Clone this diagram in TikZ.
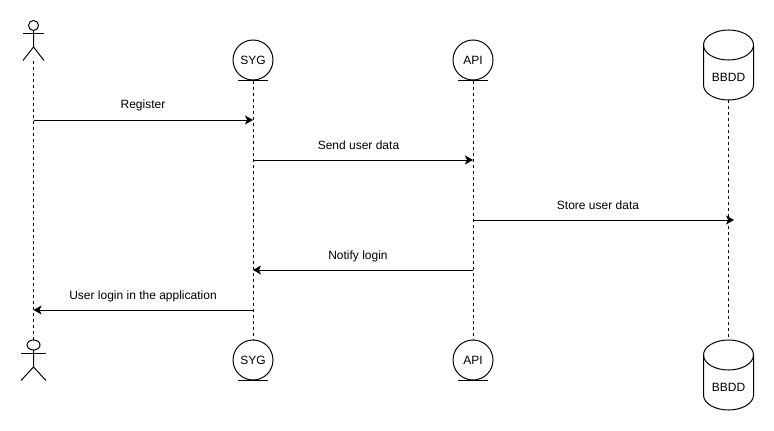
\documentclass[tikz,border=0pt]{standalone}
\usepackage{fontspec}
\setmainfont{Liberation Sans}
\usetikzlibrary{arrows.meta}
\tikzset{
  lifeline/.style={draw, dash pattern=on 3pt off 3pt, line width=0.8pt},
  message/.style={draw, line width=1pt, -{Stealth[length=8pt,width=9pt,inset=2pt]}},
  msglabel/.style={inner sep=0pt, font=\fontsize{12}{14}\selectfont},
  entity/.style={draw, circle, line width=1pt, minimum size=40pt, inner sep=0pt, font=\fontsize{12}{14}\selectfont},
  dblabel/.style={inner sep=0pt, font=\fontsize{12}{14}\selectfont},
  shapeline/.style={draw, line width=1pt},
}
\newcommand{\drawdb}[2]{%
  \draw[shapeline] (#1-25,#2+15) arc[x radius=25, y radius=15, start angle=180, end angle=-180];
  \draw[shapeline] (#1-25,#2+15) -- (#1-25,#2+55)
    arc[x radius=25, y radius=15, start angle=180, end angle=0] -- (#1+25,#2+15);
}
\begin{document}
\begin{tikzpicture}[x=1pt,y=-1pt]
\useasboundingbox (0,0) rectangle (774,431);
% top row
\def\xu{33.5}
\def\xs{253}
\def\xa{473}
\def\xb{728.5}
\coordinate (userTop) at (\xu,60.5);
\coordinate (userBottom) at (\xu,340);
\draw[shapeline] (\xu,25.5) circle[radius=5];
\draw[shapeline] (\xu,30.5) -- (\xu,47) -- (23,60.5);
\draw[shapeline] (\xu,47) -- (44,60.5);
\draw[shapeline] (23,33.7) -- (44,33.7);
\node[entity] (sygTop) at (\xs,60) {SYG};
\draw[shapeline] (238,80) -- (268,80);
\node[entity] (apiTop) at (\xa,60) {API};
\draw[shapeline] (458,80) -- (488,80);
\drawdb{\xb}{30}
\coordinate (bbddTopEnd) at (\xb,100);
\node[dblabel] (bbddTop) at (\xb,77.5) {BBDD};
% bottom row
\draw[shapeline] (\xu,345) ellipse[x radius=6.5, y radius=5];
\draw[shapeline] (\xu,350) -- (\xu,367) -- (21,380.5);
\draw[shapeline] (\xu,367) -- (46,380.5);
\draw[shapeline] (21,353.5) -- (46,353.5);
\node[entity] (sygBottom) at (\xs,360) {SYG};
\draw[shapeline] (238,380) -- (268,380);
\node[entity] (apiBottom) at (\xa,360) {API};
\draw[shapeline] (458,380) -- (488,380);
\drawdb{\xb}{340}
\coordinate (bbddBottomEnd) at (\xb,340);
\node[dblabel] (bbddBottom) at (\xb,387.5) {BBDD};
% lifelines
\draw[lifeline] (userTop) -- (userBottom);
\draw[lifeline] (sygTop) -- (sygBottom);
\draw[lifeline] (apiTop) -- (apiBottom);
\draw[lifeline] (bbddTopEnd) -- (bbddBottomEnd);
% messages
\coordinate (registerFrom) at (\xu,120);
\coordinate (registerTo) at (\xs,120);
\coordinate (sendFrom) at (\xs,160);
\coordinate (sendTo) at (\xa,160);
\coordinate (storeFrom) at (\xa,220);
\coordinate (storeTo) at (734,220);
\coordinate (notifyFrom) at (\xa,270);
\coordinate (notifyTo) at (\xs,270);
\coordinate (loginFrom) at (\xs,310);
\coordinate (loginTo) at (\xu,310);
\draw[message] (registerFrom) -- (registerTo);
\draw[message] (sendFrom) -- (sendTo);
\draw[message] (storeFrom) -- (storeTo);
\draw[message] (notifyFrom) -- (notifyTo);
\draw[message] (loginFrom) -- (loginTo);
\node[msglabel] (registerText) at (143,105.5) {Register};
\node[msglabel] (sendText) at (358.5,145.5) {Send user data};
\node[msglabel] (storeText) at (598,205.5) {Store user data};
\node[msglabel] (notifyText) at (358,256) {Notify login};
\node[msglabel] (loginText) at (143,296) {User login in the application};
\end{tikzpicture}
\end{document}
